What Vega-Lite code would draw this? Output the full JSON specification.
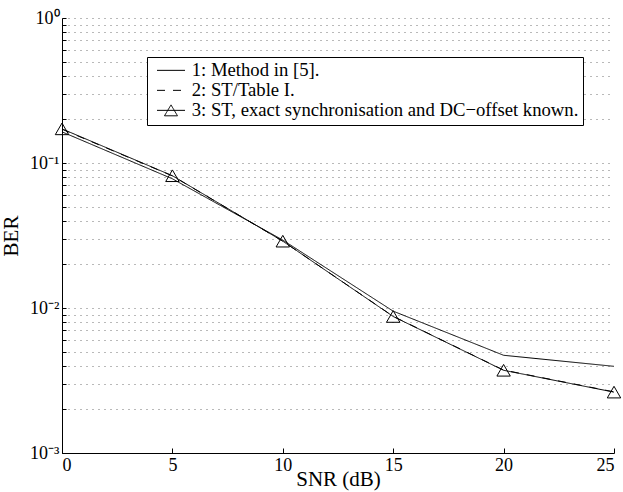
{
  "$schema": "https://vega.github.io/schema/vega-lite/v6.json",
  "autosize": "none",
  "width": 552,
  "height": 435,
  "padding": {"left": 62, "top": 18, "right": 9, "bottom": 39},
  "background": "white",
  "config": {
    "font": "Liberation Serif",
    "view": {"stroke": null},
    "axis": {
      "labelFont": "Liberation Serif",
      "titleFont": "Liberation Serif",
      "labelColor": "black",
      "titleColor": "black",
      "domainColor": "black",
      "tickColor": "black",
      "labelFontSize": 18,
      "titleFontSize": 21,
      "titleFontWeight": "normal"
    },
    "legend": {"labelFont": "Liberation Serif"}
  },
  "data": {
    "values": [
      {"snr": 0, "ber": 0.164, "series": "1: Method in [5]."},
      {"snr": 5, "ber": 0.0778, "series": "1: Method in [5]."},
      {"snr": 10, "ber": 0.0294, "series": "1: Method in [5]."},
      {"snr": 15, "ber": 0.00951, "series": "1: Method in [5]."},
      {"snr": 20, "ber": 0.00472, "series": "1: Method in [5]."},
      {"snr": 25, "ber": 0.00396, "series": "1: Method in [5]."},
      {"snr": 0, "ber": 0.171, "series": "2: ST/Table I."},
      {"snr": 5, "ber": 0.0815, "series": "2: ST/Table I."},
      {"snr": 10, "ber": 0.0289, "series": "2: ST/Table I."},
      {"snr": 15, "ber": 0.00876, "series": "2: ST/Table I."},
      {"snr": 20, "ber": 0.00373, "series": "2: ST/Table I."},
      {"snr": 25, "ber": 0.00264, "series": "2: ST/Table I."},
      {"snr": 0, "ber": 0.172, "series": "3: ST, exact synchronisation and DC−offset known."},
      {"snr": 5, "ber": 0.0817, "series": "3: ST, exact synchronisation and DC−offset known."},
      {"snr": 10, "ber": 0.0289, "series": "3: ST, exact synchronisation and DC−offset known."},
      {"snr": 15, "ber": 0.00874, "series": "3: ST, exact synchronisation and DC−offset known."},
      {"snr": 20, "ber": 0.00372, "series": "3: ST, exact synchronisation and DC−offset known."},
      {"snr": 25, "ber": 0.00263, "series": "3: ST, exact synchronisation and DC−offset known."}
    ]
  },
  "encoding": {
    "x": {
      "field": "snr",
      "type": "quantitative",
      "title": "SNR (dB)",
      "scale": {"domain": [0, 25], "nice": false, "zero": false},
      "axis": {
        "values": [0, 5, 10, 15, 20, 25],
        "grid": false,
        "tickSize": -5,
        "labelPadding": 8,
        "labelAngle": 0,
        "titlePadding": -6
      }
    },
    "y": {
      "field": "ber",
      "type": "quantitative",
      "title": "BER",
      "scale": {"type": "log", "domain": [0.001, 1], "nice": false},
      "axis": {
        "values": [0.001, 0.002, 0.003, 0.004, 0.005, 0.006, 0.007, 0.008, 0.009, 0.01, 0.02, 0.03, 0.04, 0.05, 0.06, 0.07, 0.08, 0.09, 0.1, 0.2, 0.3, 0.4, 0.5, 0.6, 0.7, 0.8, 0.9, 1],
        "labelExpr": "datum.value == 1 ? '10⁰' : datum.value == 0.1 ? '10⁻¹' : datum.value == 0.01 ? '10⁻²' : datum.value == 0.001 ? '10⁻³' : ''",
        "grid": true,
        "gridColor": "black",
        "gridDash": [1, 5],
        "gridOpacity": 0.55,
        "tickSize": -4,
        "labelPadding": 7,
        "titlePadding": 8
      }
    }
  },
  "layer": [
    {
      "mark": {"type": "line", "color": "black", "strokeWidth": 1},
      "encoding": {
        "strokeDash": {
          "field": "series",
          "type": "nominal",
          "scale": {"range": [[1, 0], [8, 8], [1, 0]]},
          "legend": {
            "title": null,
            "orient": "none",
            "legendX": 85,
            "legendY": 39,
            "fillColor": "white",
            "strokeColor": "black",
            "padding": 4,
            "cornerRadius": 0,
            "labelFont": "Liberation Serif",
            "labelFontSize": 18.7,
            "labelColor": "black",
            "labelLimit": 600,
            "symbolSize": 196,
            "symbolStrokeWidth": 1,
            "symbolStrokeColor": "black",
            "symbolFillColor": "transparent",
            "rowPadding": 0,
            "labelOffset": 22,
            "encode": {
              "symbols": {
                "update": {
                  "shape": {"signal": "indexof(datum.value, '3:') == 0 ? 'M-2,0H2M-0.93,0.78L0,-0.78L0.93,0.78Z' : 'M-2,0H2'"},
                  "xc": {"value": 20}
                }
              }
            }
          }
        }
      }
    },
    {
      "transform": [{"filter": "indexof(datum.series, '3:') == 0"}],
      "mark": {"type": "point", "shape": "triangle-up", "filled": false, "color": "black", "size": 180, "strokeWidth": 1, "opacity": 1},
      "encoding": {}
    }
  ]
}
